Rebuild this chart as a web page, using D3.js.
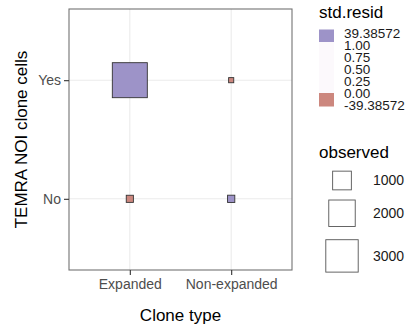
<!DOCTYPE html>
<html>
<head>
<meta charset="utf-8">
<script src="https://cdn.jsdelivr.net/npm/d3@7"></script>
<style>
  html, body { margin: 0; padding: 0; background: #fff; }
  svg { display: block; font-family: "Liberation Sans", Arial, Helvetica, sans-serif; }
</style>
</head>
<body>
<svg id="chart" width="412" height="324"></svg>
<script>
// Categories
const cloneTypes = ["Expanded", "Non-expanded"];
const noiCells = ["No", "Yes"];

// One cell per (clone type, NOI) pair
const cellCloneType = ["Expanded", "Non-expanded", "Expanded", "Non-expanded"];
const cellNoi       = ["Yes", "Yes", "No", "No"];
const cellObserved  = [3500, 75, 145, 150];
const cellResid     = [39.38572, -39.38572, -39.38572, 39.38572];

// Legend content
const residBreaks = [39.38572, 1.00, 0.75, 0.50, 0.25, 0.00, -39.38572];
const residLabels = ["39.38572", "1.00", "0.75", "0.50", "0.25", "0.00", "-39.38572"];
const observedBreaks = [1000, 2000, 3000];

const purple = "#9d93c8";
const red = "#cc877e";
const mid = "#fcf9fc";

const svg = d3.select("#chart");
const panel = { left: 69, right: 292, top: 9, bottom: 270 };

const x = d3.scalePoint().domain(cloneTypes).range([panel.left, panel.right]).padding(0.6);
const y = d3.scalePoint().domain(noiCells).range([panel.bottom, panel.top]).padding(0.6);
const side = d3.scaleSqrt().domain([0, 3000]).range([0, 32.4]);
const fill = d3.scaleLinear()
  .domain([-39.38572, 0, 1, 39.38572])
  .range([red, mid, mid, purple]);

// Panel background and grid
svg.append("rect")
  .attr("x", panel.left).attr("y", panel.top)
  .attr("width", panel.right - panel.left).attr("height", panel.bottom - panel.top)
  .attr("fill", "#fff");

const grid = svg.append("g").attr("stroke", "#ebebeb").attr("stroke-width", 1.1);
grid.selectAll("line.v").data(cloneTypes).join("line")
  .attr("x1", d => x(d)).attr("x2", d => x(d))
  .attr("y1", panel.top).attr("y2", panel.bottom);
grid.selectAll("line.h").data(noiCells).join("line")
  .attr("y1", d => y(d)).attr("y2", d => y(d))
  .attr("x1", panel.left).attr("x2", panel.right);

// Squares: side proportional to sqrt(observed), fill by residual
const cells = cellObserved.map((v, i) => ({
  ct: cellCloneType[i], noi: cellNoi[i], obs: v, resid: cellResid[i]
}));
svg.append("g").selectAll("rect").data(cells).join("rect")
  .attr("x", d => x(d.ct) - side(d.obs) / 2)
  .attr("y", d => y(d.noi) - side(d.obs) / 2)
  .attr("width", d => side(d.obs))
  .attr("height", d => side(d.obs))
  .attr("fill", d => fill(d.resid))
  .attr("stroke", "#333")
  .attr("stroke-width", 0.9);

// Panel border
svg.append("rect")
  .attr("x", panel.left).attr("y", panel.top)
  .attr("width", panel.right - panel.left).attr("height", panel.bottom - panel.top)
  .attr("fill", "none").attr("stroke", "#737373").attr("stroke-width", 1.1);

// Axes
const xAxis = svg.append("g")
  .attr("transform", `translate(0,${panel.bottom})`)
  .call(d3.axisBottom(x).tickSize(5).tickPadding(4));
const yAxis = svg.append("g")
  .attr("transform", `translate(${panel.left},0)`)
  .call(d3.axisLeft(y).tickSize(5).tickPadding(3));
[xAxis, yAxis].forEach(a => {
  a.select(".domain").remove();
  a.selectAll(".tick line").attr("stroke", "#333").attr("stroke-width", 1.1);
  a.selectAll(".tick text")
    .attr("fill", "#4d4d4d")
    .style("font-size", "14px")
    .style("font-family", "'Liberation Sans', Arial, sans-serif");
});

// Axis titles
svg.append("text")
  .attr("x", (panel.left + panel.right) / 2).attr("y", 321)
  .attr("text-anchor", "middle")
  .style("font-size", "17px").attr("fill", "#000")
  .text("Clone type");
svg.append("text")
  .attr("transform", `translate(27,${(panel.top + panel.bottom) / 2}) rotate(-90)`)
  .attr("text-anchor", "middle")
  .style("font-size", "17px").attr("fill", "#000")
  .text("TEMRA NOI clone cells");

// Legend: std.resid colour bar
const lg1 = svg.append("g");
lg1.append("text").attr("x", 319).attr("y", 18)
  .style("font-size", "17px").text("std.resid");
const keyTop = 29.5, keyBottom = 106.5;
lg1.append("rect").attr("x", 319).attr("y", keyTop).attr("width", 15).attr("height", keyBottom - keyTop)
  .attr("fill", mid);
lg1.append("rect").attr("x", 319).attr("y", keyTop).attr("width", 15).attr("height", 12.5)
  .attr("fill", fill(39.38572));
lg1.append("rect").attr("x", 319).attr("y", keyBottom - 13.5).attr("width", 15).attr("height", 13.5)
  .attr("fill", fill(-39.38572));
// label positions along the bar (piecewise: the 0..1 section is expanded)
const barPos = d3.scaleLinear()
  .domain([-39.38572, 0, 1, 39.38572])
  .range([105, 93, 45.5, 33.5]);
lg1.selectAll("text.lab").data(residBreaks).join("text")
  .attr("class", "lab")
  .attr("x", 344)
  .attr("y", d => barPos(d))
  .attr("dy", "0.35em")
  .style("font-size", "13.5px")
  .attr("fill", "#1a1a1a")
  .text((d, i) => residLabels[i]);

// Legend: observed sizes
const lg2 = svg.append("g");
lg2.append("text").attr("x", 319).attr("y", 158)
  .style("font-size", "17px").text("observed");
let cy = 180.5;
const centers = [];
observedBreaks.forEach((v, i) => {
  if (i > 0) cy += 1.45 * (side(observedBreaks[i - 1]) + side(v)) / 2;
  centers.push(cy);
});
lg2.selectAll("rect").data(observedBreaks).join("rect")
  .attr("x", d => 342 - side(d) / 2)
  .attr("y", (d, i) => centers[i] - side(d) / 2)
  .attr("width", d => side(d)).attr("height", d => side(d))
  .attr("fill", "#fff").attr("stroke", "#555").attr("stroke-width", 0.9);
lg2.selectAll("text.lab").data(observedBreaks).join("text")
  .attr("class", "lab")
  .attr("x", 373)
  .attr("y", (d, i) => centers[i])
  .attr("dy", "0.35em")
  .style("font-size", "14px")
  .attr("fill", "#1a1a1a")
  .text(d => d);
</script>
</body>
</html>
